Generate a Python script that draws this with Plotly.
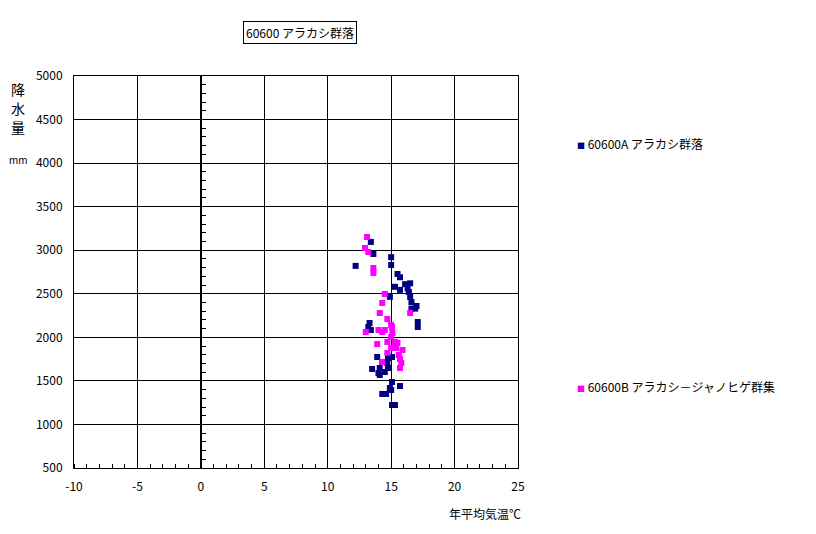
import plotly.graph_objects as go

# Series A (navy): 60600A アラカシ群落
a_temp = [12.2, 13.4, 13.6, 15.0, 15.0, 15.5, 15.7, 15.3, 15.7, 16.1, 16.3, 16.5, 16.4, 14.9,
          16.5, 16.6, 17.0, 16.6, 16.9, 17.1, 17.1, 13.3, 13.2, 13.4,
          13.9, 14.3, 13.5, 14.1, 14.5, 14.75, 15.07, 14.75, 14.0, 14.7, 14.1,
          15.07, 15.7, 14.9, 15.0, 14.3, 14.6, 15.07, 15.3]
a_rain = [2820, 3095, 2957, 2920, 2830, 2727, 2690, 2580, 2545, 2610, 2560, 2620, 2520, 2465,
          2463, 2406, 2360, 2330, 2330, 2176, 2119, 2165, 2119, 2084,
          1774, 1717, 1637, 1648, 1602, 1648, 1774, 1763, 1591, 1705, 1568,
          1487, 1441, 1418, 1395, 1350, 1350, 1223, 1223]

# Series B (magenta): 60600B アラカシ－ジャノヒゲ群集
b_temp = [13.1, 12.94, 13.2, 13.6, 13.6, 14.5, 14.3, 14.1, 14.7, 15.0, 13.0, 14.0, 14.3, 14.5,
          15.1, 15.0, 16.5, 13.9, 14.7, 15.0, 15.5, 15.3, 15.2, 15.9, 14.7, 15.6, 15.7, 15.8,
          15.7, 14.3, 15.07, 15.3, 15.4]
b_rain = [3152, 3026, 2980, 2796, 2739, 2498, 2394, 2279, 2210, 2142, 2061, 2084, 2061, 2084,
          2050, 2004, 2279, 1923, 1947, 1878, 1935, 1947, 1878, 1855, 1820, 1797, 1751, 1705,
          1648, 1717, 2119, 1947, 1878]

x_ticks = [-10, -5, 0, 5, 10, 15, 20, 25]
y_ticks = [500, 1000, 1500, 2000, 2500, 3000, 3500, 4000, 4500, 5000]

FONT = "Noto Sans CJK JP"
NAVY = "#000080"
MAGENTA = "#FF00FF"

fig = go.Figure()
fig.add_trace(go.Scatter(x=a_temp, y=a_rain, mode="markers", name="60600A アラカシ群落",
                         marker=dict(symbol="square", size=6, color=NAVY), showlegend=False))
fig.add_trace(go.Scatter(x=b_temp, y=b_rain, mode="markers", name="60600B アラカシ－ジャノヒゲ群集",
                         marker=dict(symbol="square", size=6, color=MAGENTA), showlegend=False))
# invisible trace to carry the zero-crossing y axis
fig.add_trace(go.Scatter(x=[None], y=[None], yaxis="y2", showlegend=False, hoverinfo="skip"))


def ann(text, x, y, size=12, **kw):
    return dict(text=text, xref="paper", yref="paper", x=x, y=y, xanchor="center",
                yanchor="middle", showarrow=False, font=dict(size=size, family=FONT), **kw)


fig.update_layout(
    width=816, height=534,
    margin=dict(l=66, r=306, t=68, b=74, autoexpand=False),
    paper_bgcolor="white", plot_bgcolor="white",
    font=dict(family=FONT, size=12, color="black"),
    xaxis=dict(range=[-10, 25], tickvals=x_ticks, ticktext=[str(v) for v in x_ticks],
               showgrid=True, gridcolor="black", gridwidth=1, zeroline=False,
               showline=True, linecolor="black", linewidth=1, mirror=True,
               ticks="", ticklabelstandoff=8,
               minor=dict(dtick=1, tick0=0, ticks="inside", ticklen=4, tickcolor="black", showgrid=False)),
    yaxis=dict(range=[500, 5000], tickvals=y_ticks, ticktext=[str(v) for v in y_ticks],
               showgrid=True, gridcolor="black", gridwidth=1, zeroline=False,
               showline=True, linecolor="black", linewidth=1, mirror=True,
               ticks="", ticklabelstandoff=8),
    yaxis2=dict(range=[500, 5000], overlaying="y", anchor="free", position=10 / 35,
                showgrid=False, zeroline=False, showticklabels=False,
                showline=True, linecolor="black", linewidth=1,
                ticks="inside", dtick=100, tick0=0, ticklen=4, tickcolor="black"),
    annotations=[
        ann("60600 アラカシ群落", 0.509, 1.112, bordercolor="black", borderwidth=1, borderpad=2),
        ann("降", -0.126, 0.967, size=14),
        ann("水", -0.126, 0.918, size=14),
        ann("量", -0.126, 0.870, size=14),
        ann("mm", -0.126, 0.786, size=10),
        ann("年平均気温℃", 0.926, -0.115),
        dict(text=f'<span style="color:{NAVY};font-size:8px">■</span> 60600A アラカシ群落',
             xref="paper", yref="paper", x=1.128, y=0.829, xanchor="left", yanchor="middle",
             showarrow=False, font=dict(size=12, family=FONT)),
        dict(text=f'<span style="color:{MAGENTA};font-size:8px">■</span> 60600B アラカシ－ジャノヒゲ群集',
             xref="paper", yref="paper", x=1.128, y=0.209, xanchor="left", yanchor="middle",
             showarrow=False, font=dict(size=12, family=FONT)),
    ],
)

fig.write_html("out.html")
